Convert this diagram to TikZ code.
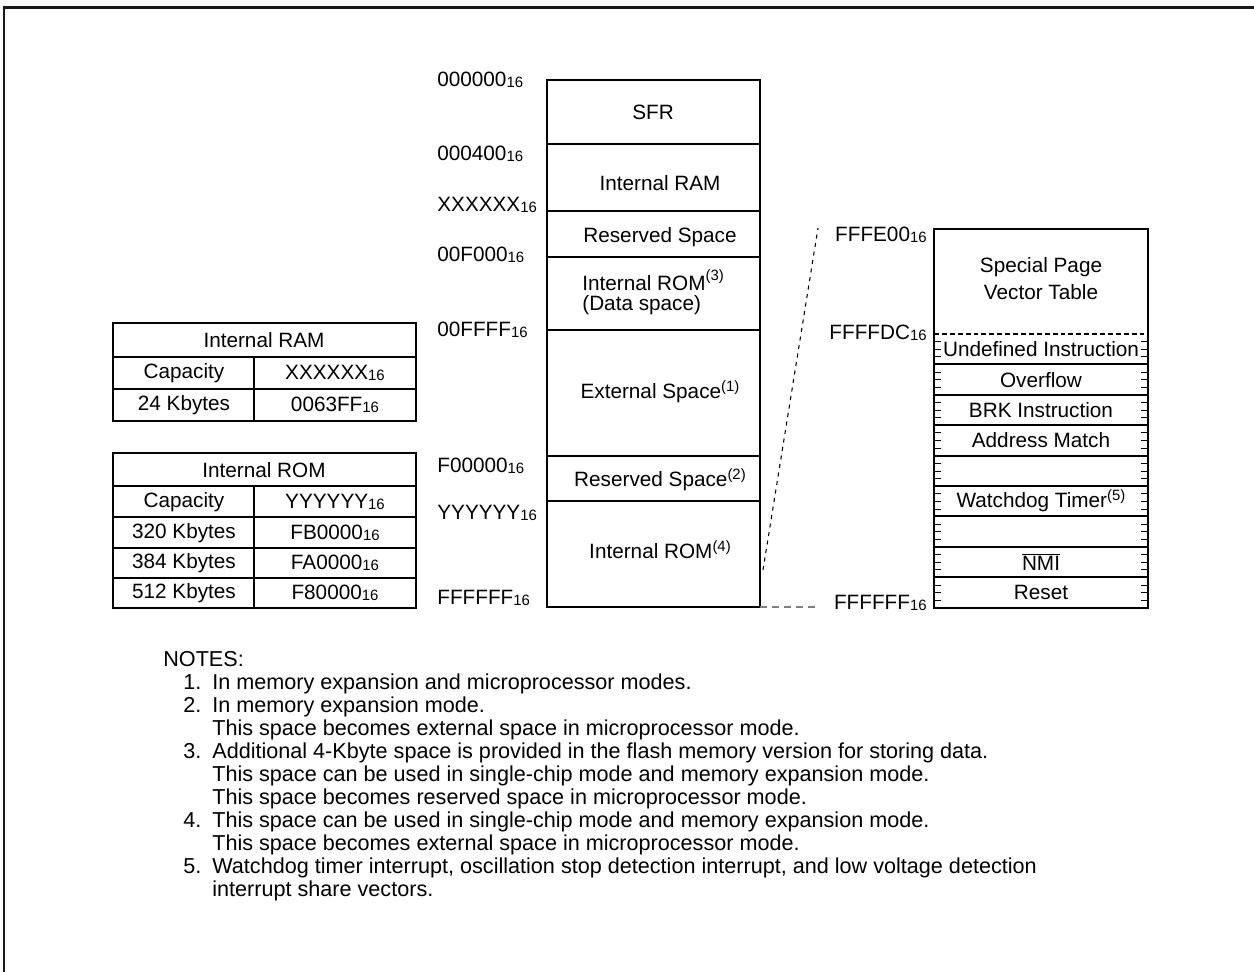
\documentclass[tikz,border=0pt]{standalone}
\usepackage{fontspec}
\setmainfont{Liberation Sans}
\newcommand\hx[1]{#1\raisebox{-0.1ex}{\fontsize{8.5}{9}\selectfont 16}}
\newcommand\supn[1]{\raisebox{0.65ex}{\fontsize{8.5}{9}\selectfont(#1)}}
\newcommand\supm[1]{\raisebox{0.95ex}{\fontsize{8.5}{9}\selectfont(#1)}}
\begin{document}
\begin{tikzpicture}[x=0.02cm,y=-0.02cm,
  frame/.style={line width=1.7pt,black!90},
  box/.style={line width=1.1pt},
  tick/.style={line width=0.5pt},
  txt/.style={inner sep=0pt,font=\fontsize{11.8}{14}\selectfont},
  addrl/.style={txt,anchor=west},
  addrr/.style={txt,anchor=east},
  note/.style={inner sep=0pt,anchor=base west,font=\fontsize{12.3}{14}\selectfont},
  dshline/.style={line width=1.1pt,dash pattern=on 2.8pt off 1.7pt},
  conn/.style={line width=0.6pt,dash pattern=on 2.3pt off 2.6pt},
  gconn/.style={line width=0.6pt,gray,dash pattern=on 4pt off 2.8pt}]
\useasboundingbox (0,0) rectangle (1254,972);
\draw[frame] (4,972) -- (4,8) -- (1254,8);

% main memory map
\draw[box] (547,80) rectangle (760,607);
\foreach \y in {144,211,257,330,456,501} \draw[box] (547,\y) -- (760,\y);
\node[txt] (sfr) at (653,112) {SFR};
\node[txt] (iram) at (660,183) {Internal RAM};
\node[txt] (rsv) at (660,237) {Reserved Space};
\node[txt,anchor=west] (irom3) at (582,280) {Internal ROM\supm{3}};
\node[txt,anchor=west] (dsp) at (582,305) {(Data space)};
\node[txt] (ext) at (660,392) {External Space\supn{1}};
\node[txt] (rsv2) at (660,480) {Reserved Space\supn{2}};
\node[txt] (irom4) at (660,550) {Internal ROM\supn{4}};

\node[addrl] (a0) at (437,80) {\hx{000000}};
\node[addrl] (a1) at (437,154) {\hx{000400}};
\node[addrl] (a2) at (437,205) {\hx{XXXXXX}};
\node[addrl] (a3) at (437,255) {\hx{00F000}};
\node[addrl] (a4) at (437,330) {\hx{00FFFF}};
\node[addrl] (a5) at (437,466) {\hx{F00000}};
\node[addrl] (a6) at (437,513) {\hx{YYYYYY}};
\node[addrl] (a7) at (437,598) {\hx{FFFFFF}};

% vector table
\draw[box] (934,229) rectangle (1148,608);
\draw[dshline] (934,334) -- (1148,334);
\foreach \y in {364,395,425,456,486,516,547,577} \draw[box] (934,\y) -- (1148,\y);
\foreach \i in {0,...,8} \foreach \k in {1,2,3} {
  \pgfmathsetmacro\ty{334+\i*30.44+\k*7.61}
  \draw[tick] (934,\ty) -- ++(7,0);
  \draw[tick] (1148,\ty) -- ++(-7,0);
}
\node[txt] (sp1) at (1041,267) {Special Page};
\node[txt] (sp2) at (1041,292) {Vector Table};
\node[txt] (v1) at (1041,349) {Undefined Instruction};
\node[txt] (v2) at (1041,380) {Overflow};
\node[txt] (v3) at (1041,410) {BRK Instruction};
\node[txt] (v4) at (1041,440) {Address Match};
\node[txt] (v6) at (1041,501) {Watchdog Timer\supn{5}};
\node[txt] (v8) at (1041,562) {$\overline{\mbox{NMI}}$};
\node[txt] (v9) at (1041,592) {Reset};
\node[addrr] (b0) at (927,235) {\hx{FFFE00}};
\node[addrr] (b1) at (927,333) {\hx{FFFFDC}};
\node[addrr] (b2) at (927,603) {\hx{FFFFFF}};

\coordinate (c1) at (763,570);
\coordinate (c2) at (818,228);
\coordinate (g1) at (760,607);
\coordinate (g2) at (818,607);
\draw[conn] (c1) -- (c2);
\draw[gconn] (g1) -- (g2);

% tables
\draw[box] (113,323) rectangle (416,421);
\draw[box] (113,357) -- (416,357);
\draw[box] (113,389) -- (416,389);
\draw[box] (254,357) -- (254,421);
\node[txt] (t1) at (264,340) {Internal RAM};
\node[txt] (t2) at (184,373) {Capacity};
\node[txt] (t3) at (335,373) {\hx{XXXXXX}};
\node[txt] (t4) at (184,405) {24 Kbytes};
\node[txt] (t5) at (335,405) {\hx{0063FF}};

\draw[box] (113,453) rectangle (416,608);
\foreach \y in {486,517,548,578} \draw[box] (113,\y) -- (416,\y);
\draw[box] (254,486) -- (254,608);
\node[txt] (r1) at (264,470) {Internal ROM};
\node[txt] (r2) at (184,502) {Capacity};
\node[txt] (r3) at (335,502) {\hx{YYYYYY}};
\node[txt] (r4) at (184,533) {320 Kbytes};
\node[txt] (r5) at (335,533) {\hx{FB0000}};
\node[txt] (r6) at (184,563) {384 Kbytes};
\node[txt] (r7) at (335,563) {\hx{FA0000}};
\node[txt] (r8) at (184,593) {512 Kbytes};
\node[txt] (r9) at (335,593) {\hx{F80000}};

% notes
\node[note] (n0) at (163,666) {NOTES:};
\node[note] (n1) at (183,689) {1.};
\node[note] (n1t) at (212,689) {In memory expansion and microprocessor modes.};
\node[note] (n2) at (183,712) {2.};
\node[note] (n2t) at (212,712) {In memory expansion mode.};
\node[note] (n2u) at (212,735) {This space becomes external space in microprocessor mode.};
\node[note] (n3) at (183,758) {3.};
\node[note] (n3t) at (212,758) {Additional 4-Kbyte space is provided in the flash memory version for storing data.};
\node[note] (n3u) at (212,781) {This space can be used in single-chip mode and memory expansion mode.};
\node[note] (n3v) at (212,804) {This space becomes reserved space in microprocessor mode.};
\node[note] (n4) at (183,827) {4.};
\node[note] (n4t) at (212,827) {This space can be used in single-chip mode and memory expansion mode.};
\node[note] (n4u) at (212,850) {This space becomes external space in microprocessor mode.};
\node[note] (n5) at (183,873) {5.};
\node[note] (n5t) at (212,873) {Watchdog timer interrupt, oscillation stop detection interrupt, and low voltage detection};
\node[note] (n5u) at (212,896) {interrupt share vectors.};
\end{tikzpicture}
\end{document}
